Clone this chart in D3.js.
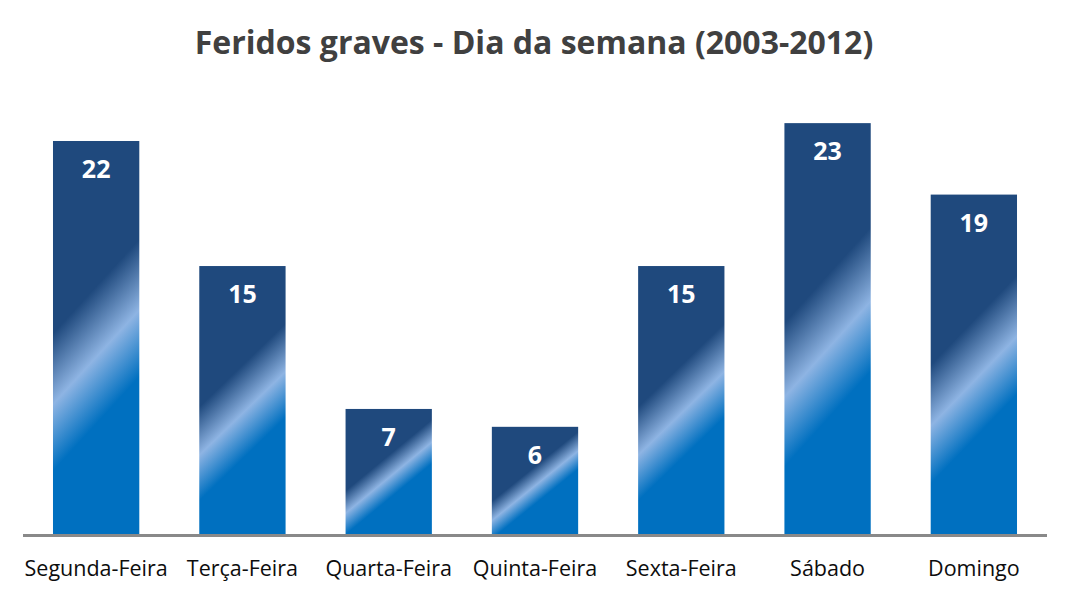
<!DOCTYPE html>
<html>
<head>
<meta charset="utf-8">
<script src="https://cdn.jsdelivr.net/npm/d3@7"></script>
<style>
  html, body { margin: 0; padding: 0; background: #fff; }
  svg { display: block; }
</style>
</head>
<body>
<svg id="chart" width="1070" height="596"></svg>
<script>
const title = "Feridos graves - Dia da semana (2003-2012)";
const categories = ["Segunda-Feira", "Terça-Feira", "Quarta-Feira", "Quinta-Feira", "Sexta-Feira", "Sábado", "Domingo"];
const values = [22, 15, 7, 6, 15, 23, 19];

const W = 1070, H = 596;
const baseY = 534;
const svg = d3.select("#chart");

const x = d3.scaleBand().domain(categories).range([23, 1047]).paddingInner(0.41).paddingOuter(0.205);
const y = d3.scaleLinear().domain([0, 25]).range([baseY, baseY - 446.6]);

const defs = svg.append("defs");

// title
svg.append("text")
  .attr("x", W / 2 - 1).attr("y", 54)
  .attr("text-anchor", "middle")
  .attr("font-family", "'Open Sans', sans-serif")
  .attr("font-weight", "bold")
  .attr("font-size", 32)
  .attr("fill", "#404040")
  .text(title);

// gradients per bar (diagonal sheen)
values.forEach((v, i) => {
  const bx = x(categories[i]), bw = x.bandwidth();
  const top = y(v), h = baseY - top;
  const k = 0.7 + h * 0.001;
  const norm = Math.sqrt(k * k + 1);
  const cx = bx + bw / 2, cy = top + h / 2;
  const L = h / (2 * norm);
  const nx = k / norm, ny = 1 / norm;
  const g = defs.append("linearGradient")
    .attr("id", "grad" + i)
    .attr("gradientUnits", "userSpaceOnUse")
    .attr("x1", cx - nx * L).attr("y1", cy - ny * L)
    .attr("x2", cx + nx * L).attr("y2", cy + ny * L);
  g.append("stop").attr("offset", 0).attr("stop-color", "#1F497D");
  g.append("stop").attr("offset", 0.37).attr("stop-color", "#1F497D");
  g.append("stop").attr("offset", 0.55).attr("stop-color", "#8EB4E3");
  g.append("stop").attr("offset", 0.72).attr("stop-color", "#0070C0");
  g.append("stop").attr("offset", 1).attr("stop-color", "#0070C0");
});

// bars
svg.append("g").selectAll("rect")
  .data(values)
  .join("rect")
  .attr("x", (d, i) => x(categories[i]))
  .attr("y", d => y(d))
  .attr("width", x.bandwidth())
  .attr("height", d => baseY - y(d))
  .attr("fill", (d, i) => `url(#grad${i})`);

// value labels
svg.append("g").selectAll("text")
  .data(values)
  .join("text")
  .attr("x", (d, i) => x(categories[i]) + x.bandwidth() / 2)
  .attr("y", d => y(d) + 37)
  .attr("text-anchor", "middle")
  .attr("font-family", "'Open Sans', sans-serif")
  .attr("font-weight", "bold")
  .attr("font-size", 25)
  .attr("fill", "#ffffff")
  .text(d => d);

// axis
const axis = svg.append("g")
  .attr("transform", `translate(0,${baseY + 1.5})`)
  .call(d3.axisBottom(x).tickSize(0).tickPadding(0));
axis.select(".domain")
  .attr("stroke", "#898989")
  .attr("stroke-width", 3)
  .attr("d", "M23,0H1047");
axis.selectAll(".tick text")
  .attr("dy", null)
  .attr("y", 40)
  .attr("font-family", "'Open Sans', sans-serif")
  .attr("font-size", 21.5)
  .attr("fill", "#0d0d0d");
</script>
</body>
</html>
